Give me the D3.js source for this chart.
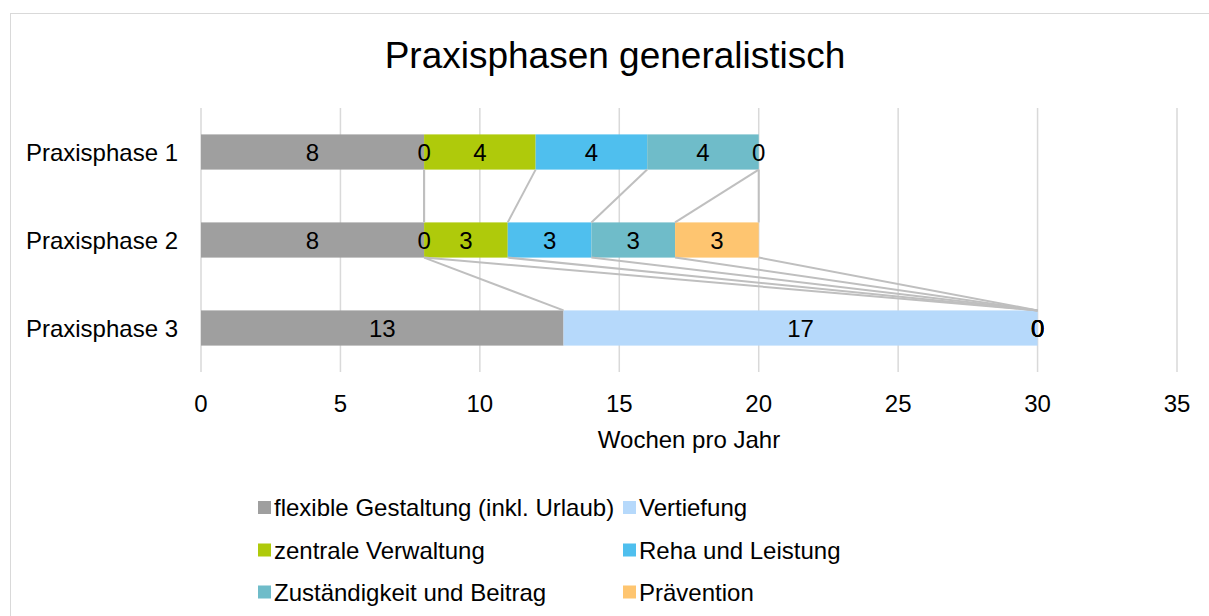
<!DOCTYPE html>
<html>
<head>
<meta charset="utf-8">
<script src="https://cdn.jsdelivr.net/npm/d3@7"></script>
<style>
  body { margin: 0; background: #fff; }
  svg { display: block; font-family: "Liberation Sans", Arial, sans-serif; }
</style>
</head>
<body>
<svg id="chart" width="1209" height="616"></svg>
<script>
// Chart data
const categories = ["Praxisphase 1", "Praxisphase 2", "Praxisphase 3"];
const seriesNames = ["flexible Gestaltung (inkl. Urlaub)", "Vertiefung", "zentrale Verwaltung",
                     "Reha und Leistung", "Zuständigkeit und Beitrag", "Prävention"];
const flexible = [8, 8, 13];
const vertiefung = [0, 0, 17];
const zentrale = [4, 3, 0];
const reha = [4, 3, 0];
const zustaendigkeit = [4, 3, 0];
const praevention = [0, 3, 0];
const xTicks = [0, 5, 10, 15, 20, 25, 30, 35];
const colors = ["#9f9f9f", "#b6d9fb", "#afca0b", "#4fbfee", "#6fbcc9", "#fec570"];

const allSeries = [flexible, vertiefung, zentrale, reha, zustaendigkeit, praevention];

const svg = d3.select("#chart");

// Chart frame
svg.append("rect")
    .attr("x", 10.5).attr("y", 13.5)
    .attr("width", 1400).attr("height", 800)
    .attr("fill", "#fff")
    .attr("stroke", "#d9d9d9")
    .attr("stroke-width", 1);

// Title
svg.append("text")
    .attr("x", 615).attr("y", 55)
    .attr("text-anchor", "middle")
    .attr("dominant-baseline", "central")
    .attr("font-size", 37)
    .attr("fill", "#000")
    .text("Praxisphasen generalistisch");

// Scales
const plot = { left: 201, right: 1177, top: 108, bottom: 372 };
const x = d3.scaleLinear().domain([0, 35]).range([plot.left, plot.right]);
const y = d3.scaleBand().domain(categories).range([plot.top, plot.bottom]).paddingInner(0.6).paddingOuter(0.3);

// Gridlines
svg.append("g").selectAll("line")
    .data(xTicks)
    .join("line")
    .attr("x1", d => x(d)).attr("x2", d => x(d))
    .attr("y1", plot.top).attr("y2", plot.bottom)
    .attr("stroke", "#d9d9d9")
    .attr("stroke-width", 1.5);

// Stack the data
const rows = categories.map((c, i) => {
    const r = { cat: c };
    seriesNames.forEach((s, j) => { r[s] = allSeries[j][i]; });
    return r;
});
const stacked = d3.stack().keys(seriesNames)(rows);

// Bars
const barLayer = svg.append("g");
stacked.forEach((layer, j) => {
    barLayer.append("g")
        .attr("fill", colors[j])
        .selectAll("rect")
        .data(layer)
        .join("rect")
        .attr("x", d => x(d[0]))
        .attr("y", d => y(d.data.cat))
        .attr("width", d => x(d[1]) - x(d[0]))
        .attr("height", y.bandwidth());
});

// Series lines between adjacent bars
const lineLayer = svg.append("g");
stacked.forEach(layer => {
    for (let i = 0; i < categories.length - 1; i++) {
        lineLayer.append("line")
            .attr("x1", x(layer[i][1]))
            .attr("y1", y(categories[i]) + y.bandwidth())
            .attr("x2", x(layer[i + 1][1]))
            .attr("y2", y(categories[i + 1]))
            .attr("stroke", "#bfbfbf")
            .attr("stroke-width", 2);
    }
});

// Data labels
const labelLayer = svg.append("g");
stacked.forEach(layer => {
    labelLayer.append("g")
        .selectAll("text")
        .data(layer)
        .join("text")
        .attr("x", d => x((d[0] + d[1]) / 2))
        .attr("y", d => y(d.data.cat) + y.bandwidth() / 2)
        .attr("text-anchor", "middle")
        .attr("dominant-baseline", "central")
        .attr("font-size", 24)
        .attr("fill", "#000")
        .text(d => d[1] - d[0]);
});

// Category labels
svg.append("g").selectAll("text")
    .data(categories)
    .join("text")
    .attr("x", 178)
    .attr("y", d => y(d) + y.bandwidth() / 2)
    .attr("text-anchor", "end")
    .attr("dominant-baseline", "central")
    .attr("font-size", 24)
    .attr("fill", "#000")
    .text(d => d);

// X axis tick labels
svg.append("g").selectAll("text")
    .data(xTicks)
    .join("text")
    .attr("x", d => x(d))
    .attr("y", 403)
    .attr("text-anchor", "middle")
    .attr("dominant-baseline", "central")
    .attr("font-size", 24)
    .attr("fill", "#000")
    .text(d => d);

// X axis title
svg.append("text")
    .attr("x", (plot.left + plot.right) / 2)
    .attr("y", 439)
    .attr("text-anchor", "middle")
    .attr("dominant-baseline", "central")
    .attr("font-size", 24)
    .attr("fill", "#000")
    .text("Wochen pro Jahr");

// Legend
const legendPos = [[258, 507.5], [623, 507.5], [258, 550], [623, 550], [258, 592], [623, 592]];
const legend = svg.append("g").selectAll("g")
    .data(seriesNames)
    .join("g")
    .attr("transform", (d, i) => `translate(${legendPos[i][0]},${legendPos[i][1]})`);
legend.append("rect")
    .attr("x", 0).attr("y", -6.5)
    .attr("width", 13).attr("height", 13)
    .attr("fill", (d, i) => colors[i]);
legend.append("text")
    .attr("x", 16).attr("y", 0)
    .attr("dominant-baseline", "central")
    .attr("font-size", 24)
    .attr("fill", "#000")
    .text(d => d);
</script>
</body>
</html>
